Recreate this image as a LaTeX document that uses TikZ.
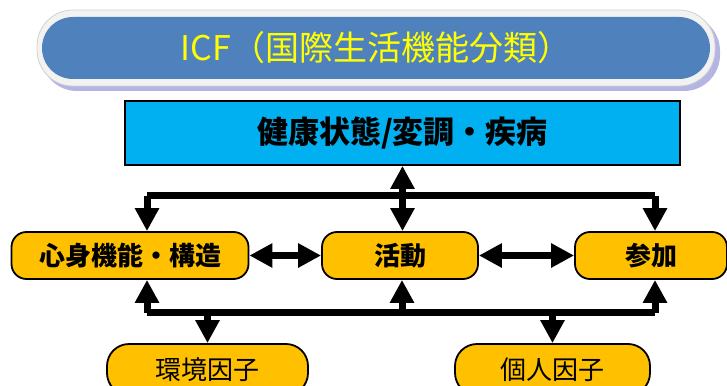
\documentclass[tikz,border=0pt]{standalone}
\usepackage{fontspec}
\newfontfamily\jp{Noto Sans CJK JP}
\usetikzlibrary{arrows.meta}
\definecolor{titleblue}{HTML}{4F81BD}
\definecolor{hblue}{HTML}{00B0F0}
\definecolor{gold}{HTML}{FFC000}
\definecolor{ttext}{HTML}{FFFF00}
\tikzset{
  gbox/.style={draw=black, line width=1.8pt, fill=gold, rounded corners=15pt, minimum height=47pt, font=\jp\bfseries\fontsize{26pt}{28pt}\selectfont, inner sep=0pt},
  lbox/.style={draw=black, line width=1.8pt, fill=gold, rounded corners=22pt, minimum height=51pt, font=\jp\fontsize{26pt}{28pt}\selectfont, inner sep=0pt},
  W/.style={line width=7pt},
  tip/.tip={Triangle[length=23pt,width=23pt]},
}
\begin{document}
\begin{tikzpicture}[x=1pt,y=-1pt]
\clip (0,0) rectangle (727,385);
\fill[white] (0,0) rectangle (727,385);
% title pill
\fill[gray!55!blue!40, rounded corners=36pt] (41,15) rectangle (720,91);
\fill[gray!10, rounded corners=36pt] (37,10) rectangle (715,86);
\draw[gray!35, line width=0.8pt, rounded corners=36pt] (37,10) rectangle (715,86);
\node[fill=titleblue, rounded corners=31pt, minimum width=668pt, minimum height=62pt, inner sep=0pt,
  text=ttext, font=\jp\fontsize{34pt}{36pt}\selectfont] (title) at (376,48) {ICF（国際生活機能分類）};
% health
\node[draw=black, line width=1.8pt, fill=hblue, minimum width=555pt, minimum height=64pt, inner sep=0pt,
  font=\jp\bfseries\fontsize{31pt}{33pt}\selectfont] (health) at (402.5,133) {健康状態/変調・疾病};
% middle row
\node[gbox, minimum width=237pt] (body) at (130,255.5) {心身機能・構造};
\node[gbox, minimum width=156pt] (act) at (400,255.5) {活動};
\node[gbox, minimum width=152pt] (part) at (651,255.5) {参加};
% lower row
\node[lbox, minimum width=201pt] (env) at (207.5,369.5) {環境因子};
\node[lbox, minimum width=195pt] (pers) at (552.5,369.5) {個人因子};
% upper connectors
\coordinate (uL) at (147,195.5);
\coordinate (uR) at (655,195.5);
\draw[W] (uL) -- (uR);
\draw[W,-tip] (uL) -- (uL |- body.north);
\draw[W,-tip] (uR) -- (uR |- part.north);
\draw[W,tip-tip] (health.south) -- (health.south |- act.north);
% horizontal
\draw[W,tip-tip] (body.east) -- (act.west);
\draw[W,tip-tip] (act.east) -- (part.west);
% lower connectors
\coordinate (lL) at (147,312.5);
\coordinate (lM) at (402,312.5);
\coordinate (lR) at (655,312.5);
\draw[W] (lL) -- (lR);
\draw[W,-tip] (lL) -- (lL |- body.south);
\draw[W,-tip] (lM) -- (lM |- act.south);
\draw[W,-tip] (lR) -- (lR |- part.south);
\draw[W,-tip] (env.north |- lL) -- (env.north);
\draw[W,-tip] (pers.north |- lL) -- (pers.north);
\end{tikzpicture}
\end{document}
